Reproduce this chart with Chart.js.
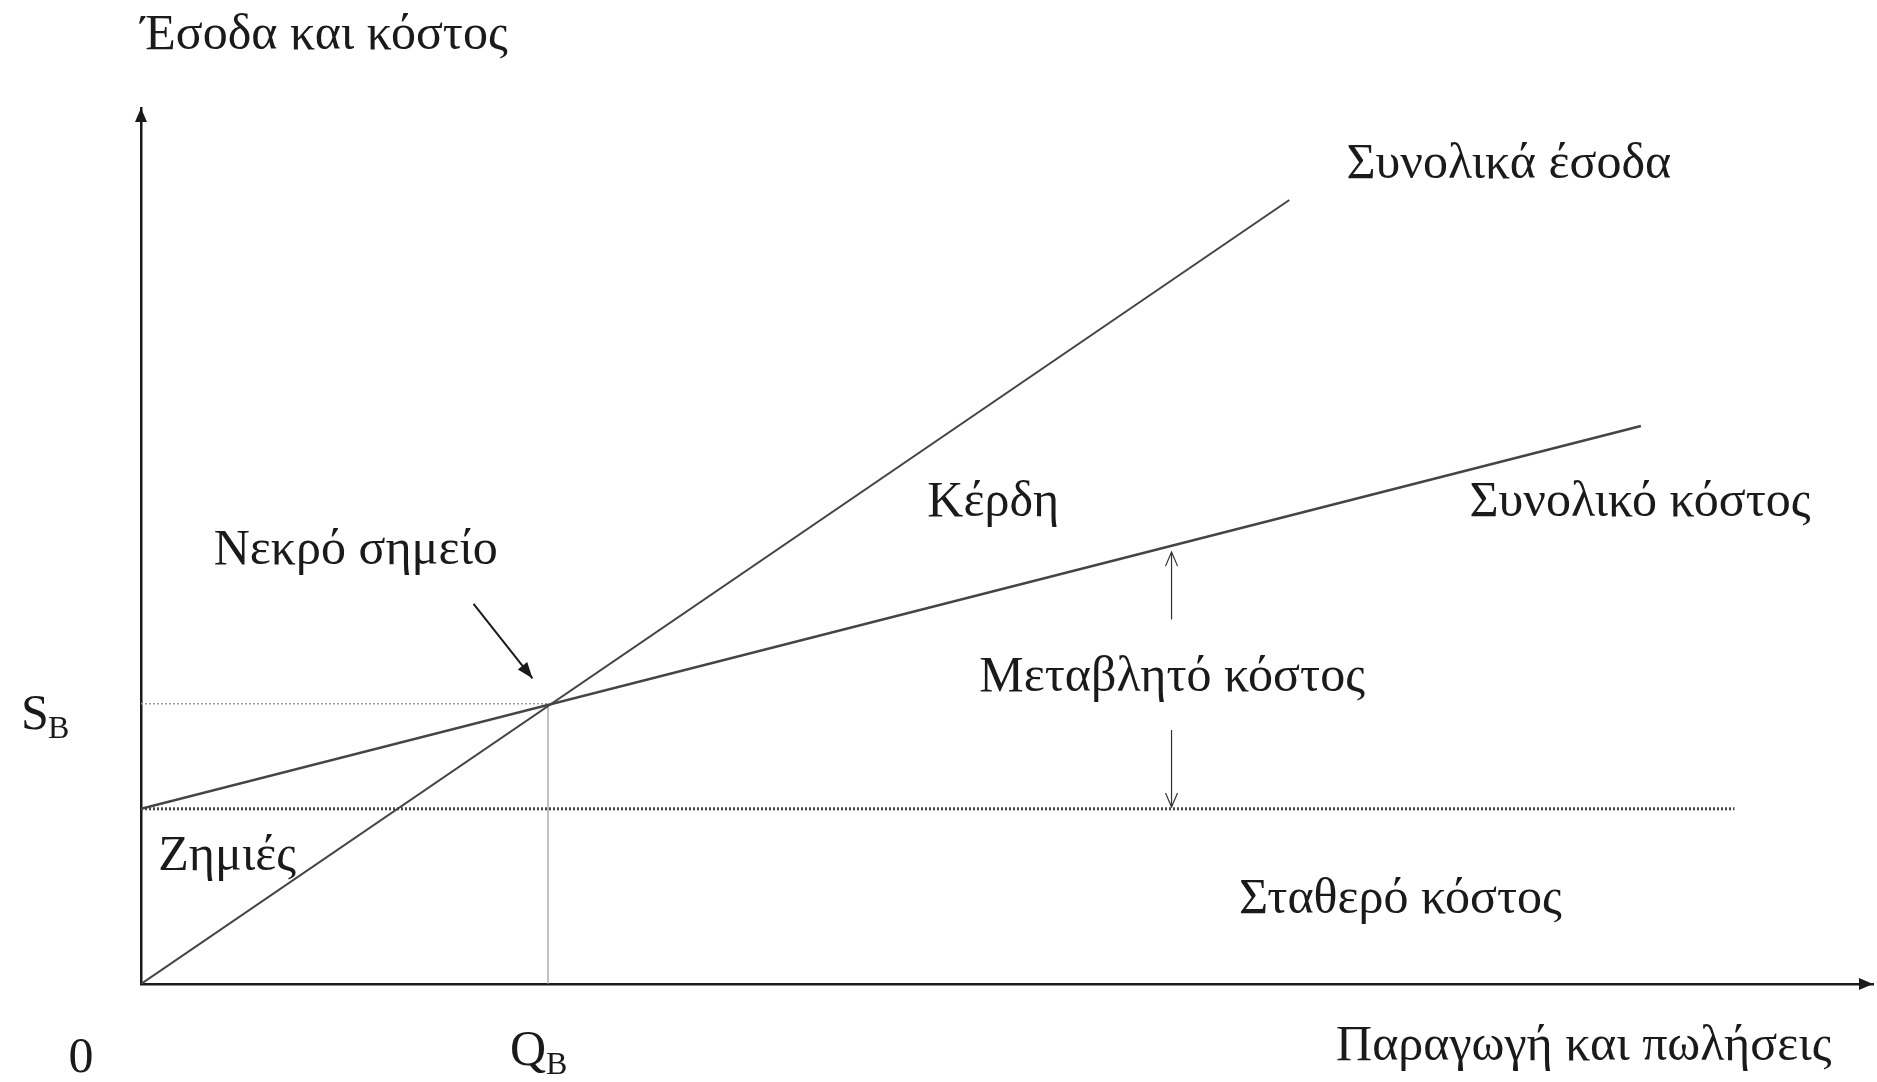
<!DOCTYPE html>
<html>
<head>
<meta charset="utf-8">
<script src="https://cdn.jsdelivr.net/npm/chart.js@4"></script>
<style>
  body { margin: 0; background: #fff; }
  #wrap { width: 1877px; height: 1082px; }
</style>
</head>
<body>
<div id="wrap"><canvas id="myChart"></canvas></div>
<script>
// break-even chart data (axis units 0..100)
const revenueX = [0, 66.3];
const revenueY = [0, 89.5];
const totalCostX = [0, 86.6];
const totalCostY = [20, 63.7];
const fixedCostX = [0, 92];
const fixedCostY = [20, 20];
const breakEvenQ = 23.5;
const breakEvenS = 32;

const FONT = '"Liberation Serif", "DejaVu Serif", serif';

function pts(xs, ys) {
    return xs.map((x, i) => ({ x: x, y: ys[i] }));
}

function arrowHead(c, x, y, ang, len, wid, filled) {
    c.save();
    c.translate(x, y);
    c.rotate(ang);
    c.beginPath();
    c.moveTo(-len, -wid);
    c.lineTo(0, 0);
    c.lineTo(-len, wid);
    if (filled) { c.closePath(); c.fill(); } else { c.stroke(); }
    c.restore();
}

const labelsPlugin = {
    id: 'labels',
    afterDraw(chart) {
        const c = chart.ctx;
        const xs = chart.scales.x, ys = chart.scales.y;
        const area = chart.chartArea;
        const px = v => xs.getPixelForValue(v);
        const py = v => ys.getPixelForValue(v);

        c.save();
        c.fillStyle = '#1a1a1a';
        c.strokeStyle = '#1a1a1a';

        // axis arrows
        arrowHead(c, area.right, py(0), 0, 14, 6, true);
        arrowHead(c, px(0), area.top, -Math.PI / 2, 14, 6, true);

        c.font = '50px ' + FONT;
        c.textBaseline = 'middle';
        c.textAlign = 'left';
        c.fillText('Έσοδα και κόστος', px(0), area.top - 72);
        c.fillText('Συνολικά έσοδα', px(69.6), py(93.5));
        c.fillText('Κέρδη', px(45.4), py(54.9));
        c.fillText('Συνολικό κόστος', px(76.7), py(54.9));
        c.fillText('Νεκρό σημείο', px(4.2), py(49.4));
        c.fillText('Μεταβλητό κόστος', px(48.4), py(34.9));
        c.fillText('Ζημιές', px(1.0), py(14.5));
        c.fillText('Σταθερό κόστος', px(63.4), py(9.6));
        c.textAlign = 'right';
        c.fillText('Παραγωγή και πωλήσεις', px(97.6), py(0) + 63);
        c.textAlign = 'center';
        c.fillText('0', px(0) - 60, py(0) + 75);

        // S_B and Q_B with subscripts
        c.textAlign = 'left';
        c.fillText('S', px(0) - 120, py(breakEvenS) + 12);
        c.font = '32px ' + FONT;
        c.fillText('B', px(0) - 93, py(breakEvenS) + 26);
        c.font = '50px ' + FONT;
        c.fillText('Q', px(breakEvenQ) - 38, py(0) + 68);
        c.font = '32px ' + FONT;
        c.fillText('B', px(breakEvenQ) - 2, py(0) + 82);

        // pointer to break-even point
        c.lineWidth = 2;
        c.beginPath();
        c.moveTo(px(19.2), py(43.4));
        c.lineTo(px(22.6), py(34.9));
        c.stroke();
        const a = Math.atan2(py(34.9) - py(43.4), px(22.6) - px(19.2));
        arrowHead(c, px(22.6), py(34.9), a, 16, 6, true);

        // variable cost arrows
        c.lineWidth = 1.2;
        c.strokeStyle = '#333';
        c.beginPath();
        c.moveTo(px(59.5), py(41.6));
        c.lineTo(px(59.5), py(49.3));
        c.moveTo(px(59.5), py(29.0));
        c.lineTo(px(59.5), py(20.2));
        c.stroke();
        arrowHead(c, px(59.5), py(49.3), -Math.PI / 2, 14, 6, false);
        arrowHead(c, px(59.5), py(20.2), Math.PI / 2, 14, 6, false);
        c.restore();
    }
};

const ctx = document.getElementById('myChart');

var chart = new Chart(ctx, {
    type: 'scatter',
    data: {
        datasets: [{
            label: 'Συνολικά έσοδα',
            data: pts(revenueX, revenueY),
            borderColor: '#444',
            borderWidth: 2
        }, {
            label: 'Συνολικό κόστος',
            data: pts(totalCostX, totalCostY),
            borderColor: '#444',
            borderWidth: 2.5
        }, {
            label: 'Σταθερό κόστος',
            data: pts(fixedCostX, fixedCostY),
            borderColor: '#444',
            borderWidth: 3,
            borderDash: [2, 2]
        }, {
            label: 'S_B',
            data: pts([0, breakEvenQ], [breakEvenS, breakEvenS]),
            borderColor: '#999',
            borderWidth: 1.5,
            borderDash: [2, 2]
        }, {
            label: 'Q_B',
            data: pts([breakEvenQ, breakEvenQ], [0, breakEvenS]),
            borderColor: '#999',
            borderWidth: 1.2
        }]
    },
    options: {
        responsive: true,
        maintainAspectRatio: false,
        animation: false,
        showLine: true,
        elements: { point: { radius: 0, hoverRadius: 0 } },
        layout: { padding: { left: 141, right: 4, top: 108, bottom: 98 } },
        scales: {
            x: {
                type: 'linear', min: 0, max: 100,
                grid: { display: false, drawTicks: false },
                ticks: { display: false },
                border: { display: true, color: '#1a1a1a', width: 2.5 }
            },
            y: {
                type: 'linear', min: 0, max: 100,
                grid: { display: false, drawTicks: false },
                ticks: { display: false },
                border: { display: true, color: '#1a1a1a', width: 2.5 }
            }
        },
        plugins: {
            legend: { display: false },
            tooltip: { enabled: false }
        }
    },
    plugins: [labelsPlugin]
});
</script>
</body>
</html>
